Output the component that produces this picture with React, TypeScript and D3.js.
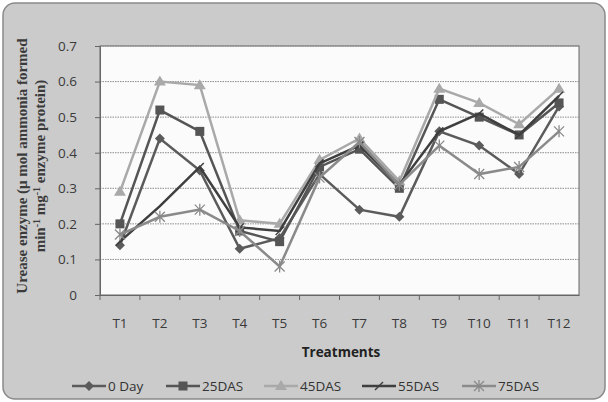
import React, { useEffect, useRef } from 'react';
import * as d3 from 'd3';

const treatments = ['T1', 'T2', 'T3', 'T4', 'T5', 'T6', 'T7', 'T8', 'T9', 'T10', 'T11', 'T12'];
const seriesNames = ['0 Day', '25DAS', '45DAS', '55DAS', '75DAS'];
const day0 = [0.14, 0.44, 0.35, 0.13, 0.16, 0.34, 0.24, 0.22, 0.46, 0.42, 0.34, 0.53];
const das25 = [0.2, 0.52, 0.46, 0.18, 0.15, 0.36, 0.41, 0.3, 0.55, 0.5, 0.45, 0.54];
const das45 = [0.29, 0.6, 0.59, 0.21, 0.2, 0.38, 0.44, 0.32, 0.58, 0.54, 0.48, 0.58];
const das55 = [0.15, 0.25, 0.36, 0.19, 0.18, 0.37, 0.42, 0.31, 0.46, 0.51, 0.45, 0.56];
const das75 = [0.17, 0.22, 0.24, 0.18, 0.08, 0.33, 0.43, 0.31, 0.42, 0.34, 0.36, 0.46];
const yTicks = [0, 0.1, 0.2, 0.3, 0.4, 0.5, 0.6, 0.7];

const seriesValues = [day0, das25, das45, das55, das75];
const colors = ['#5b5b5b', '#555555', '#a9a9a9', '#3f3f3f', '#8a8a8a'];
const markers = ['diamond', 'square', 'triangle', 'dash', 'star'];

const App: React.FC = () => {
  const svgRef = useRef<SVGSVGElement>(null);

  useEffect(() => {
    const svg = d3.select(svgRef.current);
    svg.selectAll('*').remove();

    const width = 608;
    const height = 402;
    const margin = { top: 46, right: 29, bottom: 107, left: 100 };

    // outer chart frame
    svg
      .append('rect')
      .attr('x', 3)
      .attr('y', 3)
      .attr('width', width - 6)
      .attr('height', height - 6)
      .attr('rx', 12)
      .attr('fill', '#cbcbcb')
      .attr('stroke', '#8a8a8a')
      .attr('stroke-width', 1.5);

    const x = d3
      .scaleBand()
      .domain(treatments)
      .range([margin.left, width - margin.right]);

    const y = d3
      .scaleLinear()
      .domain([0, 0.7])
      .range([height - margin.bottom, margin.top]);

    // plot area
    svg
      .append('rect')
      .attr('x', margin.left)
      .attr('y', margin.top)
      .attr('width', width - margin.left - margin.right)
      .attr('height', height - margin.top - margin.bottom)
      .attr('fill', '#fbfbfb')
      .attr('stroke', '#666')
      .attr('stroke-width', 1);

    // gridlines
    svg
      .append('g')
      .selectAll('line')
      .data(yTicks.filter((t) => t > 0))
      .join('line')
      .attr('x1', margin.left)
      .attr('x2', width - margin.right)
      .attr('y1', (d) => y(d))
      .attr('y2', (d) => y(d))
      .attr('stroke', '#8c8c8c')
      .attr('stroke-dasharray', '1.5,1')
      .attr('stroke-width', 1);

    // y axis
    const yAxis = svg
      .append('g')
      .attr('transform', `translate(${margin.left}, 0)`)
      .call(d3.axisLeft(y).tickValues(yTicks).tickSize(5).tickPadding(18).tickFormat((d) => (d === 0 ? '0' : d3.format('.1f')(d as number))));
    yAxis.select('.domain').attr('stroke', '#666');
    yAxis.selectAll('line').attr('stroke', '#666');
    yAxis
      .selectAll('text')
      .attr('fill', '#3a3a3a')
      .style('font-family', '"Open Sans", sans-serif')
      .style('font-size', '13.5px');

    // x axis
    const xAxis = svg
      .append('g')
      .attr('transform', `translate(0, ${height - margin.bottom})`)
      .call(d3.axisBottom(x).tickSize(0).tickPadding(23));
    xAxis.select('.domain').attr('stroke', '#666');
    xAxis
      .selectAll('text')
      .attr('fill', '#3a3a3a')
      .style('font-family', '"Open Sans", sans-serif')
      .style('font-size', '13.5px');
    // category boundary ticks
    svg
      .append('g')
      .selectAll('line')
      .data(treatments)
      .join('line')
      .attr('x1', (d) => x(d)!)
      .attr('x2', (d) => x(d)!)
      .attr('y1', height - margin.bottom)
      .attr('y2', height - margin.bottom + 5)
      .attr('stroke', '#666');

    const cx = (i: number) => x(treatments[i])! + x.bandwidth() / 2;

    const line = d3
      .line<number>()
      .x((_, i) => cx(i))
      .y((d) => y(d));

    const drawMarker = (g: any, kind: string, px: number, py: number, color: string) => {
      if (kind === 'diamond') {
        g.append('path')
          .attr('d', `M${px},${py - 5}L${px + 5},${py}L${px},${py + 5}L${px - 5},${py}Z`)
          .attr('fill', color);
      } else if (kind === 'square') {
        g.append('rect')
          .attr('x', px - 4.5)
          .attr('y', py - 4.5)
          .attr('width', 9)
          .attr('height', 9)
          .attr('fill', color);
      } else if (kind === 'triangle') {
        g.append('path')
          .attr('d', `M${px},${py - 6}L${px + 6},${py + 4}L${px - 6},${py + 4}Z`)
          .attr('fill', color);
      } else if (kind === 'dash') {
        g.append('path')
          .attr('d', `M${px - 4},${py + 4}L${px + 4},${py - 4}`)
          .attr('stroke', color)
          .attr('stroke-width', 1.5);
      } else {
        g.append('path')
          .attr('d', `M${px - 5},${py - 5}L${px + 5},${py + 5}M${px - 5},${py + 5}L${px + 5},${py - 5}M${px},${py - 6}L${px},${py + 6}`)
          .attr('stroke', color)
          .attr('stroke-width', 1.3);
      }
    };

    seriesValues.forEach((vals, si) => {
      const g = svg.append('g');
      g.append('path')
        .datum(vals)
        .attr('fill', 'none')
        .attr('stroke', colors[si])
        .attr('stroke-width', 2.5)
        .attr('d', line);
      vals.forEach((v, i) => drawMarker(g, markers[si], cx(i), y(v), colors[si]));
    });

    // x title
    svg
      .append('text')
      .attr('x', 341)
      .attr('y', 357)
      .attr('text-anchor', 'middle')
      .style('font-family', '"Open Sans", sans-serif')
      .style('font-size', '13.5px')
      .style('font-weight', '700')
      .attr('fill', '#222')
      .text('Treatments');

    // y title, two lines
    const yt = svg
      .append('text')
      .attr('transform', 'translate(27, 166) rotate(-90)')
      .attr('text-anchor', 'middle')
      .style('font-family', '"Liberation Serif", serif')
      .style('font-size', '15px')
      .style('font-weight', '700')
      .attr('fill', '#3a3a3a');
    yt.append('tspan').attr('x', 0).attr('y', 0).text('Urease enzyme (μ mol ammonia formed');
    const t2 = yt.append('tspan').attr('x', 0).attr('y', 18);
    t2.append('tspan').text('min');
    t2.append('tspan').attr('dy', -5).style('font-size', '10px').text('-1');
    t2.append('tspan').attr('dy', 5).text(' mg');
    t2.append('tspan').attr('dy', -5).style('font-size', '10px').text('-1');
    t2.append('tspan').attr('dy', 5).text(' enzyme protein)');

    // legend
    const legendX = [72, 166, 264, 362, 462];
    seriesNames.forEach((name, si) => {
      const g = svg.append('g');
      const lx = legendX[si];
      g.append('line')
        .attr('x1', lx)
        .attr('x2', lx + 34)
        .attr('y1', 386)
        .attr('y2', 386)
        .attr('stroke', colors[si])
        .attr('stroke-width', 2.5);
      drawMarker(g, markers[si], lx + 17, 386, colors[si]);
      g.append('text')
        .attr('x', lx + 36)
        .attr('y', 391)
        .style('font-family', '"Open Sans", sans-serif')
        .style('font-size', '13.5px')
        .attr('fill', '#333')
        .text(name);
    });
  }, []);

  return (
    <div style={{ position: 'absolute', left: 0, top: 0, width: 608, height: 402 }}>
      <svg ref={svgRef} width={608} height={402} style={{ display: 'block' }}></svg>
    </div>
  );
};

export default App;
